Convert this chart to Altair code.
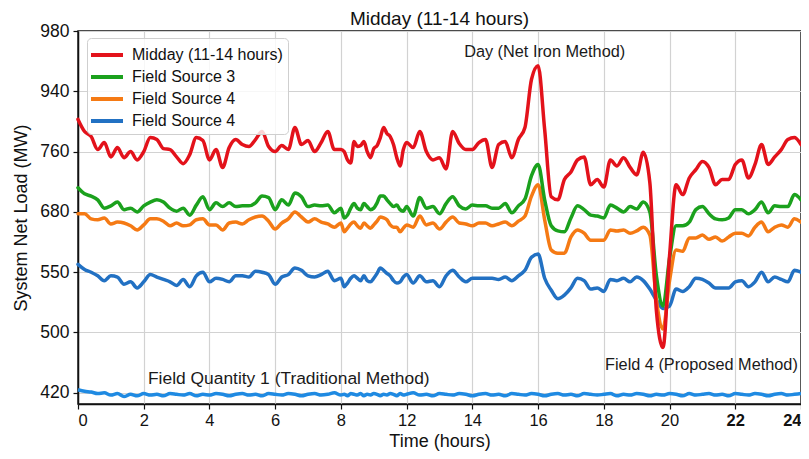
import altair as alt
import pandas as pd

# ---------------- data ----------------
hours = [round(i * 0.2, 1) for i in range(121)]

y_ticks = [420, 500, 550, 680, 760, 940, 980]
x_ticks = [0, 2, 4, 6, 8, 12, 14, 16, 18, 20, 22, 24]

series_keys = ["s1", "s2", "s3", "s4"]
series_labels = ["Midday (11-14 hours)", "Field Source 3", "Field Source 4", "Field Source 4"]
series_colors = ["#e3121b", "#1ba11d", "#f57a14", "#2271c3"]

midday = [
    856, 820, 805, 766, 787, 753, 772, 752, 760, 749,
    760, 802, 796, 769, 766, 753, 744, 756, 802, 793,
    749, 766, 739, 772, 796, 781, 775, 796, 820, 775,
    760, 778, 766, 832, 781, 793, 760, 787,
    820, 766, 766, 760, 749, 745, 790, 775, 778, 790,
    760, 752, 769, 778, 802, 832, 814, 805, 781, 752,
    741, 766, 787, 772, 820, 760, 749, 752, 737, 820,
    784, 766, 766, 787, 796, 739, 781, 790, 752, 796,
    832, 948, 957, 826, 700, 696, 723,
    733, 749, 753, 716, 723, 713, 749, 741, 752, 739,
    729, 759, 719, 518, 480, 585, 716, 703, 725, 736,
    747, 739, 716, 723, 723, 743, 749, 725, 743, 781,
    743, 753, 766, 796, 802, 781,
]

field_source_3 = [
    712, 704, 701, 696, 685, 688, 693, 683, 685, 680,
    688, 693, 696, 693, 685, 681, 685, 673, 689, 700,
    683, 692, 687, 692, 687, 688, 688, 692, 701, 699,
    683, 696, 689, 705, 700, 687, 689, 688,
    689, 678, 685, 667, 673, 685, 691, 685, 683, 691,
    687, 683, 685, 692, 701, 701, 696, 691, 687, 689,
    683, 681, 687, 671, 699, 685, 687, 676, 691, 700,
    688, 684, 689, 688, 688, 685, 685, 691, 678, 688,
    697, 728, 743, 696, 650, 639, 637,
    667, 688, 683, 673, 671, 667, 689, 685, 680, 687,
    684, 693, 680, 547, 522, 580, 650, 650, 658, 683,
    687, 676, 665, 663, 667, 683, 683, 676, 683, 693,
    678, 688, 687, 687, 703, 696,
]

field_source_4a = [
    676, 676, 665, 663, 667, 654, 658, 656, 650, 641,
    652, 665, 665, 660, 650, 656, 650, 652, 663, 665,
    652, 652, 641, 656, 658, 654, 663, 669, 671, 660,
    643, 656, 665, 680, 669, 658, 665, 658,
    654, 647, 656, 637, 645, 654, 658, 650, 645, 656,
    650, 645, 652, 660, 669, 667, 663, 652, 647, 647,
    637, 645, 652, 647, 671, 652, 656, 643, 658, 669,
    656, 654, 650, 656, 656, 650, 654, 658, 650, 660,
    671, 701, 716, 663, 598, 591, 591,
    626, 641, 634, 619, 619, 619, 641, 639, 641, 634,
    639, 647, 630, 527, 503, 543, 598, 595, 624, 624,
    630, 621, 626, 617, 626, 634, 634, 628, 647, 658,
    637, 647, 652, 647, 665, 658,
]

field_source_4b = [
    567, 556, 550, 547, 543, 547, 546, 540, 542, 537,
    542, 548, 546, 544, 542, 539, 544, 538, 547, 550,
    542, 545, 544, 542, 547, 547, 546, 552, 550, 548,
    540, 546, 548, 559, 554, 547, 546, 548,
    552, 543, 545, 538, 541, 545, 547, 545, 543, 547,
    543, 542, 545, 549, 559, 554, 549, 547, 543, 541,
    542, 546, 548, 541, 547, 542, 543, 538, 547, 554,
    546, 542, 545, 545, 545, 545, 544, 546, 543, 547,
    554, 582, 589, 545, 535, 528, 531,
    537, 545, 543, 536, 537, 534, 544, 543, 545, 542,
    546, 543, 536, 527, 520, 522, 536, 534, 538, 545,
    544, 541, 537, 537, 537, 542, 543, 538, 542, 550,
    542, 546, 544, 542, 554, 550,
]

field_quantity_1 = [
    424, 422, 421, 419, 420, 417, 419, 415, 418, 416,
    419, 417, 418, 416, 419, 418, 417, 419, 416, 418,
    417, 419, 418, 416, 418, 419, 417, 418, 416, 419,
    418, 417, 419, 418, 416, 418, 419, 417, 418, 420,
    417, 418, 416, 419, 418, 417, 419, 416, 418, 417,
    419, 418, 416, 418, 417, 419, 418, 416, 419, 417,
    418, 420, 417, 418, 416, 419, 418, 417, 419, 418,
    416, 418, 419, 417, 418, 416, 419, 418, 417, 419,
    418, 416, 418, 419, 417, 418, 416, 419, 418, 417,
    418, 419, 416, 418, 417, 419, 418, 416, 418, 417,
    419, 418, 416, 419, 417, 418, 419, 417, 418, 416,
    419, 418, 417, 419, 418, 416, 418, 419, 417, 418,
    419,
]

ann_text = ["Day (Net Iron Method)", "Field 4 (Proposed Method)", "Field Quantity 1 (Traditional Method)"]
ann_hour = [16.2, 20.97, 2.13]
ann_load = [966, 457, 438]
ann_align = ["center", "center", "left"]
ann_size = [16.3, 16.3, 17.4]

# ---------------- build tables ----------------
rows = []
# drawing order: blue, orange, green, red (red on top)
for key, vals in [("s4", field_source_4b), ("s3", field_source_4a), ("s2", field_source_3), ("s1", midday)]:
    for h, v in zip(hours, vals):
        rows.append({"hour": h, "load": v, "series": key})
df = pd.DataFrame(rows)
df_bottom = pd.DataFrame({"hour": hours[:len(field_quantity_1)], "load": field_quantity_1})
df_ann = pd.DataFrame({"text": ann_text, "hour": ann_hour, "load": ann_load,
                       "align": ann_align, "size": ann_size})

# ---------------- layout ----------------
W, H = 723, 373
step = 60.3
x_range = [W * k / (len(x_ticks) - 1) for k in range(len(x_ticks))]
y_bottom_val = y_ticks[0] - (H - 6 * step) * ((y_ticks[1] - y_ticks[0]) / step)
y_domain = [y_bottom_val] + y_ticks
y_range = [H] + [6 * step - k * step for k in range(7)]

FONT = "Liberation Sans"

x_enc = alt.X(
    "hour:Q",
    scale=alt.Scale(domain=x_ticks, range=x_range, nice=False, zero=False),
    axis=alt.Axis(
        values=x_ticks, title="Time (hours)", format="d",
        labelFontSize=16.5, titleFontSize=18, labelPadding=3, titlePadding=4,
        labelFontWeight={"condition": {"test": "datum.value >= 22", "value": "bold"}, "value": "normal"},
    ),
)
y_enc = alt.Y(
    "load:Q",
    scale=alt.Scale(domain=y_domain, range=y_range, nice=False, zero=False),
    axis=alt.Axis(
        values=y_ticks, title="System Net Load (MW)", format="d",
        labelFontSize=17.5, titleFontSize=18, labelPadding=4, titlePadding=9,
    ),
)

lines = alt.Chart(df).mark_line(strokeWidth=3.5, strokeJoin="round", strokeCap="round",
                                interpolate="monotone").encode(
    x=x_enc,
    y=y_enc,
    color=alt.Color(
        "series:N",
        scale=alt.Scale(domain=series_keys, range=series_colors),
        legend=alt.Legend(
            title=None,
            labelExpr=(
                "datum.value == 's1' ? '" + series_labels[0] + "' : "
                "datum.value == 's2' ? '" + series_labels[1] + "' : '" + series_labels[2] + "'"
            ),
        ),
    ),
    detail="series:N",
)

bottom = alt.Chart(df_bottom).mark_line(strokeWidth=3.5, color="#1f8ae2", strokeJoin="round",
                                        interpolate="monotone").encode(
    x="hour:Q", y="load:Q"
)

ann_layers = []
for al in ["center", "left"]:
    sub = df_ann[df_ann["align"] == al]
    for sz in sorted(set(sub["size"])):
        part = sub[sub["size"] == sz]
        ann_layers.append(
            alt.Chart(part).mark_text(fontSize=float(sz), font=FONT, color="#1a1a1a",
                                      baseline="middle", align=al).encode(
                x="hour:Q", y="load:Q", text="text:N")
        )

chart = alt.layer(bottom, lines, *ann_layers).properties(
    width=W,
    height=H,
    title=alt.TitleParams("Midday (11-14 hours)", fontSize=19, fontWeight="normal", font=FONT,
                          color="#111111", offset=-7, anchor="middle"),
    padding={"left": 70, "top": 23, "right": 0, "bottom": 47},
    autosize=alt.AutoSizeParams(type="none"),
).configure_view(
    stroke="#111111", strokeWidth=1.5
).configure_axis(
    labelFont=FONT, titleFont=FONT, labelColor="#111111", titleColor="#111111",
    titleFontWeight="normal", domainColor="#111111", domainWidth=1.5,
    tickColor="#111111", tickSize=5, tickWidth=1.2,
    gridColor="#d2d2d2", gridWidth=1.2,
).configure_legend(
    orient="none", legendX=9, legendY=7,
    fillColor="rgba(255,255,255,0.82)", strokeColor="#cfcfcf", cornerRadius=4,
    padding=5, symbolType="M-1.6,0H1.6", symbolStrokeWidth=4, symbolSize=400,
    symbolOffset=3, symbolFillColor="transparent",
    labelFont=FONT, labelFontSize=16, labelColor="#111111", labelOffset=13,
    rowPadding=2, symbolOpacity=1,
)

chart.save("out.html", embed_options={"renderer": "svg", "actions": False})
